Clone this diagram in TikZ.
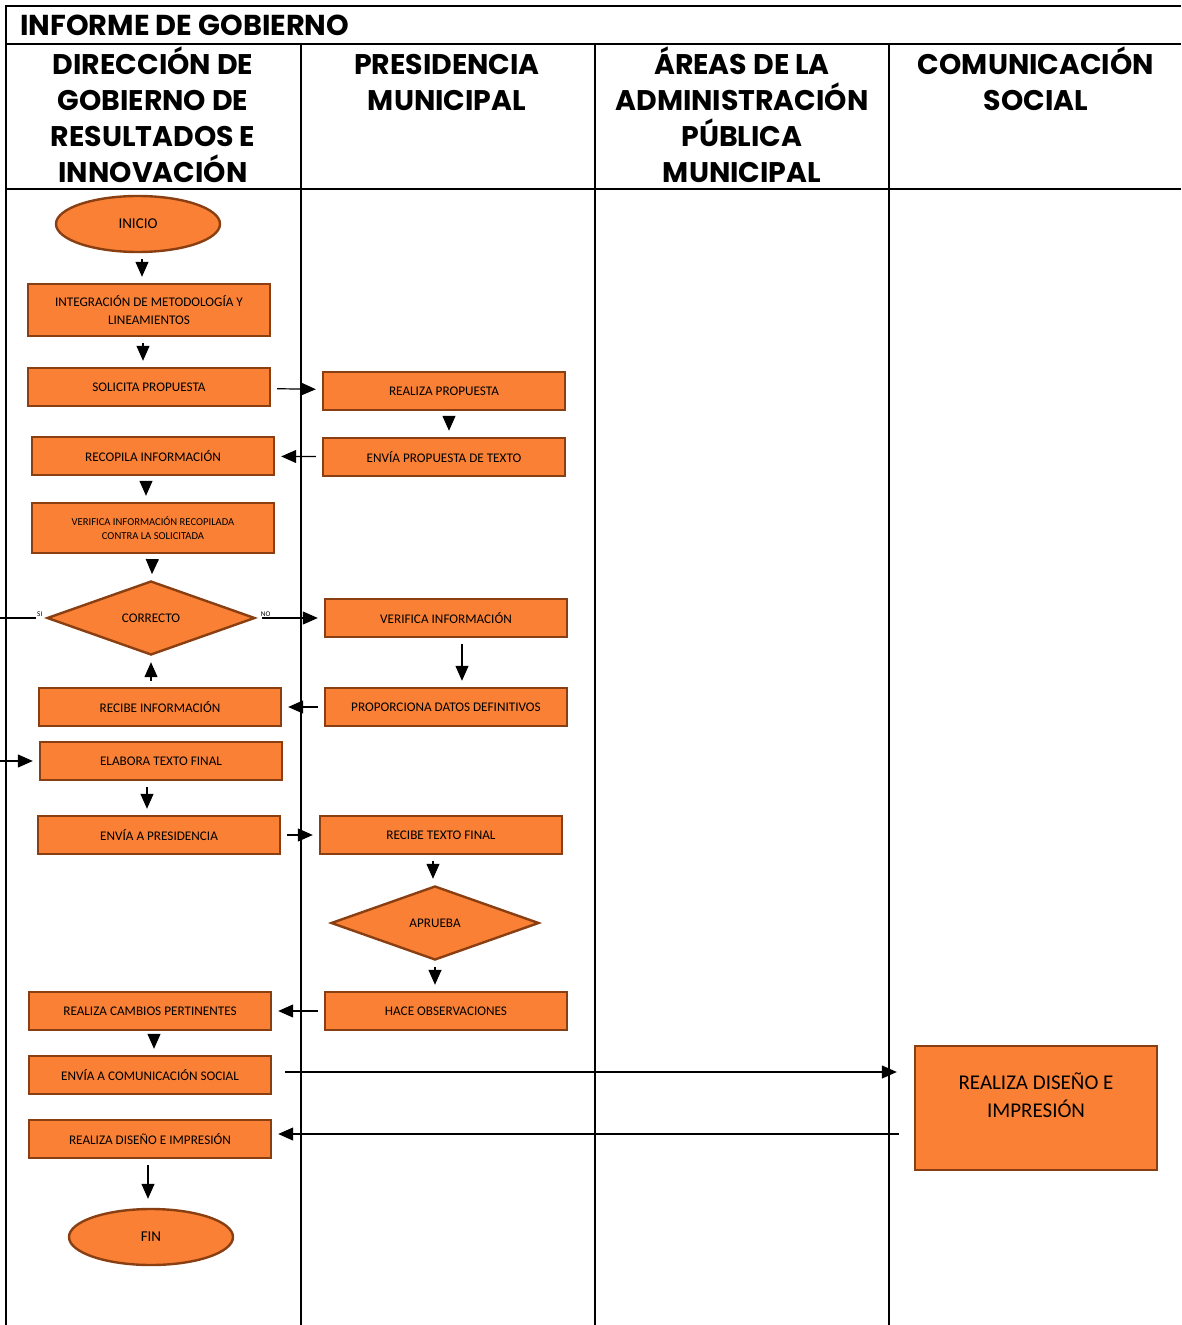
\documentclass[tikz,border=0pt]{standalone}
\usepackage{fontspec}
\setmainfont{Carlito}
\newfontfamily\headfont{Poppins}
\usepackage{tikz}
\usetikzlibrary{
  arrows.meta,
  shapes.geometric
}
\definecolor{stepfill}{HTML}{F98035}
\definecolor{stepline}{HTML}{8A3F12}
\tikzset{
  lane line/.style={draw,line width=1pt},
  lane head/.style={align=center,anchor=north,inner sep=0pt,
    font=\headfont\bfseries\fontsize{14.2}{18}\selectfont},
  proc box/.style={rectangle,draw=stepline,fill=stepfill,line width=1.2pt,
    minimum width=121pt,minimum height=19pt,align=center,inner sep=1pt,
    font=\fontsize{6.6}{9}\selectfont},
  term/.style={ellipse,draw=stepline,fill=stepfill,line width=1.2pt,
    minimum width=82pt,minimum height=28pt,inner sep=0pt,
    font=\fontsize{7.5}{9}\selectfont},
  decision/.style={diamond,draw=stepline,fill=stepfill,line width=1.2pt,
    minimum width=104pt,minimum height=37pt,inner sep=0pt,
    font=\fontsize{6.6}{9}\selectfont},
  flow/.style={draw,line width=0.6pt,-{Triangle[length=7.5pt,width=6.5pt]},
    shorten <=3pt,shorten >=3pt},
  tag/.style={inner sep=0.5pt,font=\fontsize{3.6}{4}\selectfont},
}

\begin{document}
\begin{tikzpicture}[x=0.5pt,y=-0.5pt]
\useasboundingbox (0,0) rectangle (1181,1325);
\clip (0,0) rectangle (1181,1325);
\draw[lane line] (6,1325) -- (6,6) -- (1181,6);
\draw[lane line] (6,44) -- (1181,44);
\draw[lane line] (6,189) -- (1181,189);
\foreach \x in {301,595,889}
  \draw[lane line] (\x,44) -- (\x,1325);
\node[anchor=base west,inner sep=0pt,font=\headfont\bfseries\fontsize{14.4}{16}\selectfont]
  (title) at (20,36) {INFORME DE GOBIERNO};
\node[lane head] (lane-dir) at (153,46) {DIRECCIÓN DE\\GOBIERNO DE\\RESULTADOS E\\INNOVACIÓN};
\node[lane head] (lane-pres) at (447,54) {PRESIDENCIA\\MUNICIPAL};
\node[lane head] (lane-areas) at (742,46) {ÁREAS DE LA\\ADMINISTRACIÓN\\PÚBLICA\\MUNICIPAL};
\node[lane head] (lane-com) at (1036,46) {COMUNICACIÓN\\SOCIAL};

\node[term] (inicio) at (138,224) {INICIO};
\node[proc box,minimum height=26pt] (integra) at (149,310) {INTEGRACIÓN DE METODOLOGÍA Y\\LINEAMIENTOS};
\node[proc box] (solicita) at (149,387) {SOLICITA PROPUESTA};
\node[proc box] (realiza-prop) at (444,391) {REALIZA PROPUESTA};
\node[proc box] (envia-prop) at (444,457) {ENVÍA PROPUESTA DE TEXTO};
\node[proc box] (recopila) at (153,456) {RECOPILA INFORMACIÓN};
\node[proc box,minimum height=25pt,font=\fontsize{5.3}{7}\selectfont]
  (verifica-rec) at (153,528) {VERIFICA INFORMACIÓN RECOPILADA\\CONTRA LA SOLICITADA};
\node[decision] (correcto) at (151,618) {CORRECTO};
\node[proc box] (verifica-info) at (446,618) {VERIFICA INFORMACIÓN};
\node[proc box] (proporciona) at (446,707) {PROPORCIONA DATOS DEFINITIVOS};
\node[proc box] (recibe-info) at (160,707) {RECIBE INFORMACIÓN};
\node[proc box] (elabora) at (161,761) {ELABORA TEXTO FINAL};
\node[proc box] (envia-pres) at (159,835) {ENVÍA A PRESIDENCIA};
\node[proc box] (recibe-texto) at (441,835) {RECIBE TEXTO FINAL};
\node[decision] (aprueba) at (435,923) {APRUEBA};
\node[proc box] (observa) at (446,1011) {HACE OBSERVACIONES};
\node[proc box] (cambios) at (150,1011) {REALIZA CAMBIOS PERTINENTES};
\node[proc box] (envia-cs) at (150,1075) {ENVÍA A COMUNICACIÓN SOCIAL};
\node[proc box,minimum height=62pt,text depth=13pt,font=\fontsize{10.5}{14}\selectfont]
  (disenio) at (1036,1108) {REALIZA DISEÑO E\\IMPRESIÓN};
\node[proc box] (realiza-di) at (150,1139) {REALIZA DISEÑO E IMPRESIÓN};
\node[term] (fin) at (151,1237) {FIN};

\draw[flow] ([xshift=2pt]inicio.south) -- ([xshift=2pt]inicio.south |- integra.north);
\draw[flow] ([xshift=-3pt]integra.south) -- ([xshift=-3pt]solicita.north);
\draw[flow] (solicita) -- (realiza-prop);
\draw[flow] ([xshift=2.5pt]realiza-prop.south) -- ([xshift=2.5pt]envia-prop.north);
\draw[flow] (envia-prop) -- (recopila);
\draw[flow] ([xshift=-3.5pt]recopila.south) -- ([xshift=-3.5pt]verifica-rec.north);
\draw[flow] (verifica-rec) -- (correcto);
\draw[flow] (correcto) -- node[tag,pos=0.14,above] {NO} (verifica-info);
\draw[flow,shorten <=5pt] (correcto.west) -- node[tag,pos=0.1,above] {SI} ++(-60,0) |- (elabora);
\draw[flow] ([xshift=8pt]verifica-info.south) -- ([xshift=8pt]proporciona.north);
\draw[flow] (proporciona) -- (recibe-info);
\draw[flow] (recibe-info.north -| correcto.south) -- (correcto.south);
\draw[flow] ([xshift=-7pt]elabora.south) -- ([xshift=-6pt]envia-pres.north);
\draw[flow] (envia-pres) -- (recibe-texto);
\draw[flow] ([xshift=-1pt]aprueba.north |- recibe-texto.south) -- ([xshift=-1pt]aprueba.north);
\draw[flow] (aprueba.south) -- (aprueba.south |- observa.north);
\draw[flow] (observa) -- (cambios);
\draw[flow] ([xshift=2pt]cambios.south) -- ([xshift=2pt]envia-cs.north);
\draw[flow,shorten <=6.5pt,shorten >=8.5pt] ([yshift=1.5pt]envia-cs.east) -- ([yshift=1.5pt]envia-cs.east -| disenio.west);
\draw[flow,shorten <=7.5pt] ([yshift=2.5pt]realiza-di.east -| disenio.west) -- ([yshift=2.5pt]realiza-di.east);
\draw[flow,shorten >=4.5pt] ([xshift=-1pt]realiza-di.south) -- ([xshift=-1pt]realiza-di.south |- fin.north);
\end{tikzpicture}
\end{document}
